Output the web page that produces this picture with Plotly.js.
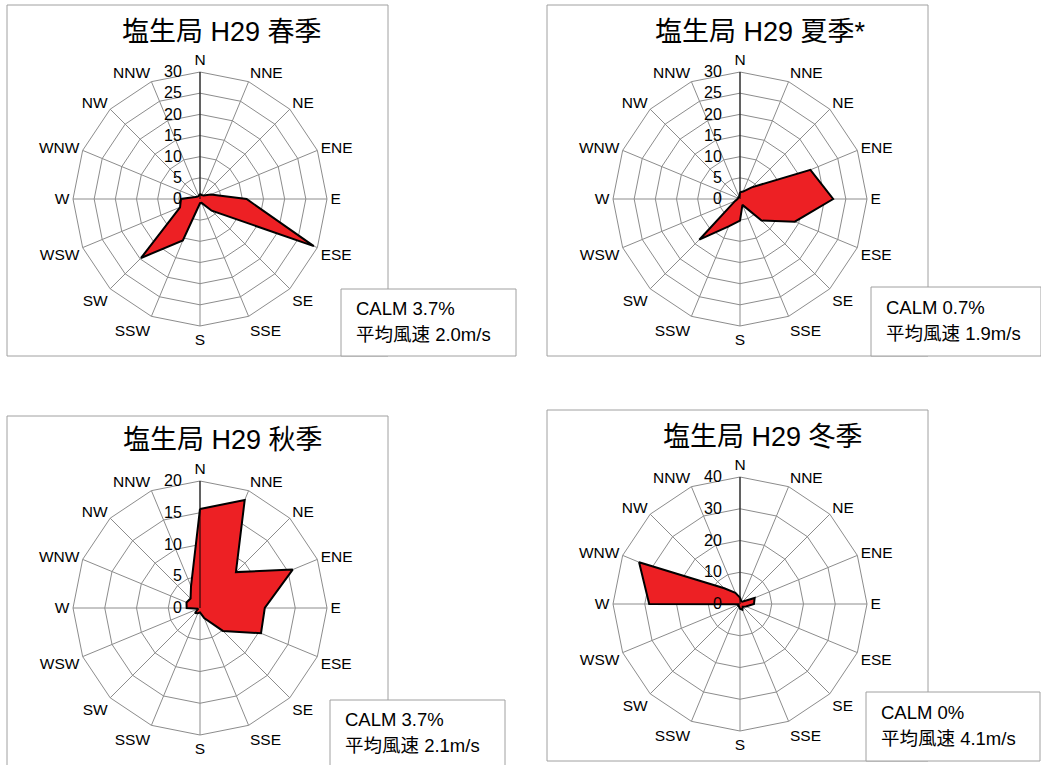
<!DOCTYPE html>
<html>
<head>
<meta charset="utf-8">
<script src="https://cdn.plot.ly/plotly-3.0.1.min.js"></script>
<style>html,body{margin:0;padding:0;background:#fff;}#chart{width:1041px;height:765px;}</style>
</head>
<body>
<div id="chart"></div>
<script>
// ---- data ----
const directions = ['N','NNE','NE','ENE','E','ESE','SE','SSE','S','SSW','SW','WSW','W','WNW','NW','NNW'];
const springValues = [1.2, 1.0, 1.2, 2.8, 11.0, 29.1, 3.9, 1.0, 1.0, 10.6, 19.7, 5.1, 4.5, 1.2, 0.8, 0.8];
const summerValues = [1.6, 1.9, 3.9, 18.0, 22.0, 14.0, 7.2, 1.5, 5.1, 7.0, 13.6, 1.3, 0.6, 0.5, 0.5, 0.5];
const autumnValues = [15.6, 18.4, 8.0, 15.8, 10.2, 10.4, 5.1, 1.7, 0.7, 0.9, 1.1, 0.3, 2.1, 2.3, 2.1, 3.7];
const winterValues = [2.0, 1.0, 1.0, 5.0, 4.4, 2.0, 1.2, 2.0, 1.5, 0.8, 0.8, 0.3, 28.6, 34.4, 7.0, 3.8];
const panelTitles = ['塩生局 H29 春季', '塩生局 H29 夏季*', '塩生局 H29 秋季', '塩生局 H29 冬季'];
const calmLabels = ['CALM 3.7%', 'CALM 0.7%', 'CALM 3.7%', 'CALM 0%'];
const speedLabels = ['平均風速 2.0m/s', '平均風速 1.9m/s', '平均風速 2.1m/s', '平均風速 4.1m/s'];
const radialMax = [30, 30, 20, 40];
const radialStep = [5, 5, 5, 10];

// ---- layout geometry (pixels) ----
const W = 1041, H = 765;
const X = px => px / W;
const Y = py => 1 - py / H;
const R = 127;
const panels = [
  {cx: 200, cy: 199, box: [7, 5, 388, 356],   calm: [341, 289, 516, 356], tx: 354, ty: 308, hx: 222, hy: 32},
  {cx: 740, cy: 199, box: [547, 5, 928, 356], calm: [871, 287, 1041, 356], tx: 884, ty: 307, hx: 760, hy: 32},
  {cx: 200, cy: 608, box: [7, 416, 388, 767], calm: [330, 700, 505, 767], tx: 343, ty: 719, hx: 223, hy: 440},
  {cx: 740, cy: 604, box: [547, 410, 928, 761], calm: [866, 692, 1040, 761], tx: 879, ty: 712, hx: 763, hy: 437}
];
const seriesList = [springValues, summerValues, autumnValues, winterValues];

const latin = 'Liberation Sans, Arial, Noto Sans CJK JP, sans-serif';
const cjk = 'Liberation Sans, Noto Sans CJK JP, sans-serif';

const traces = [];
const layout = {
  width: W, height: H,
  margin: {l: 0, r: 0, t: 0, b: 0},
  paper_bgcolor: '#ffffff',
  showlegend: false,
  shapes: [],
  annotations: []
};

seriesList.forEach((vals, i) => {
  const p = panels[i];
  const key = i === 0 ? 'polar' : 'polar' + (i + 1);
  traces.push({
    type: 'scatterpolar',
    subplot: key,
    theta: directions.concat([directions[0]]),
    r: vals.concat([vals[0]]),
    mode: 'lines',
    fill: 'toself',
    fillcolor: '#ED2024',
    line: {color: '#000000', width: 2},
    hoverinfo: 'skip'
  });
  layout[key] = {
    domain: {x: [X(p.cx - R), X(p.cx + R)], y: [Y(p.cy + R), Y(p.cy - R)]},
    gridshape: 'linear',
    bgcolor: '#ffffff',
    angularaxis: {
      type: 'category',
      categoryarray: directions,
      rotation: 90,
      direction: 'clockwise',
      showline: true, linecolor: '#8c8c8c', linewidth: 1,
      showgrid: true, gridcolor: '#8c8c8c', gridwidth: 1,
      ticks: '',
      tickfont: {family: latin, size: 15.5, color: '#000'}
    },
    radialaxis: {
      range: [0, radialMax[i]],
      dtick: radialStep[i],
      tick0: 0,
      angle: 90,
      side: 'counterclockwise',
      showline: true, linecolor: '#000000', linewidth: 1,
      showgrid: true, gridcolor: '#8c8c8c', gridwidth: 1,
      ticks: 'outside', ticklen: 12, tickcolor: 'rgba(0,0,0,0)',
      tickangle: 90,
      tickfont: {family: latin, size: 16, color: '#000'}
    }
  };
  // panel border
  layout.shapes.push({type: 'rect', xref: 'paper', yref: 'paper', layer: 'below',
    x0: X(p.box[0]), x1: X(p.box[2]), y0: Y(p.box[3]), y1: Y(p.box[1]),
    line: {color: '#a0a0a0', width: 1}, fillcolor: 'rgba(0,0,0,0)'});
  // calm box
  layout.shapes.push({type: 'rect', xref: 'paper', yref: 'paper', layer: 'above',
    x0: X(p.calm[0]), x1: X(p.calm[2]), y0: Y(p.calm[3]), y1: Y(p.calm[1]),
    line: {color: '#a0a0a0', width: 1}, fillcolor: '#ffffff'});
  // title
  layout.annotations.push({xref: 'paper', yref: 'paper', x: X(p.hx), y: Y(p.hy),
    xanchor: 'center', yanchor: 'middle', showarrow: false,
    text: panelTitles[i], font: {family: cjk, size: 27, color: '#000'}});
  layout.annotations.push({xref: 'paper', yref: 'paper', x: X(p.tx), y: Y(p.ty),
    xanchor: 'left', yanchor: 'middle', showarrow: false,
    text: calmLabels[i], font: {family: cjk, size: 18.5, color: '#000'}});
  layout.annotations.push({xref: 'paper', yref: 'paper', x: X(p.tx), y: Y(p.ty + 26),
    xanchor: 'left', yanchor: 'middle', showarrow: false,
    text: speedLabels[i], font: {family: cjk, size: 18.5, color: '#000'}});
});

Plotly.newPlot('chart', traces, layout, {staticPlot: true, displayModeBar: false});
</script>
</body>
</html>
